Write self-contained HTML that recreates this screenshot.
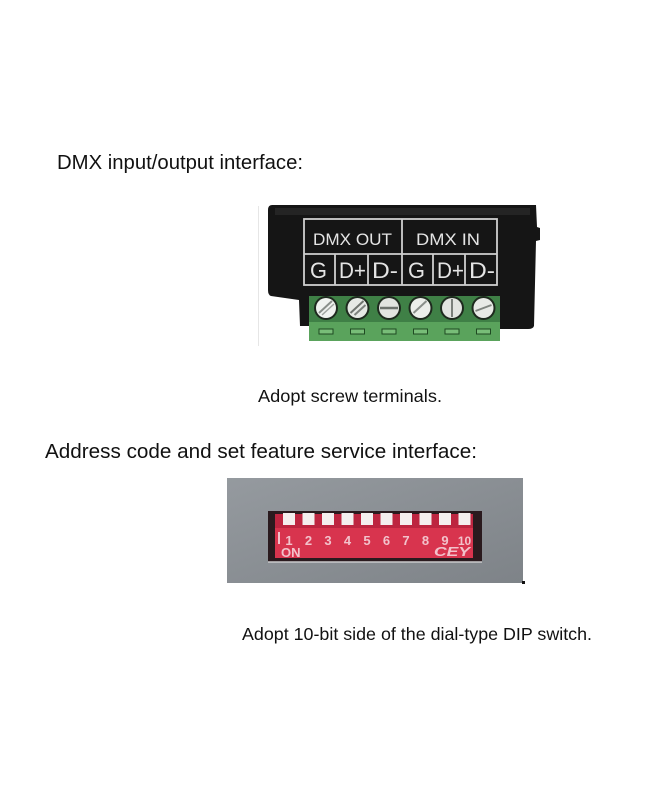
<!DOCTYPE html>
<html><head><meta charset="utf-8"><style>
html,body{margin:0;padding:0;background:#fff;}
svg{display:block;}
</style></head><body>
<svg width="650" height="800" viewBox="0 0 650 800" xmlns="http://www.w3.org/2000/svg" font-family="Liberation Sans, Arial, sans-serif">
<rect width="650" height="800" fill="#fff"/>
<!-- Headings -->
<text x="57" y="169" font-size="20" fill="#111" textLength="246" lengthAdjust="spacingAndGlyphs">DMX input/output interface:</text>
<text x="45" y="458" font-size="20.5" fill="#111" textLength="432" lengthAdjust="spacingAndGlyphs">Address code and set feature service interface:</text>
<text x="258" y="402" font-size="17.5" fill="#111" textLength="184" lengthAdjust="spacingAndGlyphs">Adopt screw terminals.</text>
<text x="242" y="640" font-size="17.5" fill="#111" textLength="350" lengthAdjust="spacingAndGlyphs">Adopt 10-bit side of the dial-type DIP switch.</text>

<!-- DMX photo -->
<line x1="258.5" y1="206" x2="258.5" y2="346" stroke="#e6e6e6" stroke-width="1"/>
<path d="M272 205 L536 205 L537 227 L540 228 L540 240 L536 241 L534 326 Q533 329 528 329 L500 329 L500 300 L310 300 L310 326 L300 326 L299 300 L271 296 Q268 295 268 290 L268 210 Q268 205 272 205 Z" fill="#151515"/>
<path d="M275 208 L530 208 L530 215 L275 215 Z" fill="#242424"/>
<!-- table -->
<g stroke="#cfcfcf" stroke-width="1.8" fill="none">
<rect x="304" y="219" width="193" height="66"/>
<line x1="304" y1="254" x2="497" y2="254"/>
<line x1="402" y1="219" x2="402" y2="285"/>
<line x1="335" y1="254" x2="335" y2="285"/>
<line x1="368" y1="254" x2="368" y2="285"/>
<line x1="433" y1="254" x2="433" y2="285"/>
<line x1="465" y1="254" x2="465" y2="285"/>
</g>
<g fill="#e4e4e4">
<text x="313" y="245" font-size="17" textLength="79" lengthAdjust="spacingAndGlyphs">DMX OUT</text>
<text x="416" y="245" font-size="17" textLength="64" lengthAdjust="spacingAndGlyphs">DMX IN</text>
<text x="310" y="278" font-size="22" textLength="17" lengthAdjust="spacingAndGlyphs">G</text>
<text x="339" y="278" font-size="22" textLength="27" lengthAdjust="spacingAndGlyphs">D+</text>
<text x="372" y="278" font-size="22" textLength="26" lengthAdjust="spacingAndGlyphs">D-</text>
<text x="408" y="278" font-size="22" textLength="17" lengthAdjust="spacingAndGlyphs">G</text>
<text x="437" y="278" font-size="22" textLength="27" lengthAdjust="spacingAndGlyphs">D+</text>
<text x="469" y="278" font-size="22" textLength="26" lengthAdjust="spacingAndGlyphs">D-</text>
</g>
<!-- green terminal -->
<rect x="309" y="296" width="191" height="45" fill="#4f9552"/>
<rect x="309" y="296" width="191" height="26" fill="#3f8046"/>
<rect x="309" y="322" width="191" height="19" fill="#5aa35c"/>
<g>
<g transform="translate(326,308)"><circle r="12" fill="#1e2a1e"/><circle r="10" fill="#f0f2ef"/><line x1="-7" y1="5" x2="6" y2="-7" stroke="#8a8f8a" stroke-width="2"/><line x1="-4" y1="7" x2="8" y2="-4" stroke="#a0a5a0" stroke-width="1.5"/></g>
<g transform="translate(357.5,308)"><circle r="12" fill="#1e2a1e"/><circle r="10" fill="#e6e9e5"/><line x1="-7" y1="5" x2="6" y2="-7" stroke="#6f746f" stroke-width="2"/><line x1="-3" y1="7" x2="8" y2="-3" stroke="#7e837e" stroke-width="2"/></g>
<g transform="translate(389,308)"><circle r="12" fill="#1e2a1e"/><circle r="10" fill="#e2e4e0"/><line x1="-9" y1="0" x2="9" y2="0" stroke="#6e736e" stroke-width="2.5"/></g>
<g transform="translate(420.5,308)"><circle r="12" fill="#1e2a1e"/><circle r="10" fill="#eceeea"/><line x1="-7" y1="5" x2="6" y2="-7" stroke="#8a8f8a" stroke-width="2"/></g>
<g transform="translate(452,308)"><circle r="12" fill="#1e2a1e"/><circle r="10" fill="#e2e4e0"/><line x1="0" y1="-9" x2="0" y2="9" stroke="#7a7f7a" stroke-width="2"/></g>
<g transform="translate(483.5,308)"><circle r="12" fill="#1e2a1e"/><circle r="10" fill="#e8eae6"/><line x1="-8" y1="3" x2="8" y2="-3" stroke="#80857f" stroke-width="2"/></g>
</g>
<g fill="#78bd78" stroke="#1f4a22" stroke-width="1">
<rect x="319" y="329" width="14" height="5"/>
<rect x="350.5" y="329" width="14" height="5"/>
<rect x="382" y="329" width="14" height="5"/>
<rect x="413.5" y="329" width="14" height="5"/>
<rect x="445" y="329" width="14" height="5"/>
<rect x="476.5" y="329" width="14" height="5"/>
</g>

<!-- DIP photo -->
<defs>
<linearGradient id="gg" x1="0" y1="0" x2="1" y2="1">
<stop offset="0" stop-color="#959a9f"/>
<stop offset="1" stop-color="#7e8388"/>
</linearGradient>
</defs>
<rect x="227" y="478" width="296" height="105" fill="url(#gg)"/>
<rect x="522" y="581" width="3" height="3" fill="#111"/>
<rect x="268" y="511" width="214" height="51" fill="#2a1a1e"/>
<line x1="268" y1="562" x2="482" y2="562" stroke="#c9cacc" stroke-width="1.5"/>
<rect x="275" y="514" width="198" height="44" fill="#d8344e"/>
<rect x="275" y="514" width="198" height="14" fill="#bd2540"/>
<g fill="#f4eeee">
<rect x="283" y="513" width="12" height="12"/>
<rect x="302.5" y="513" width="12" height="12"/>
<rect x="322" y="513" width="12" height="12"/>
<rect x="341.5" y="513" width="12" height="12"/>
<rect x="361" y="513" width="12" height="12"/>
<rect x="380.5" y="513" width="12" height="12"/>
<rect x="400" y="513" width="12" height="12"/>
<rect x="419.5" y="513" width="12" height="12"/>
<rect x="439" y="513" width="12" height="12"/>
<rect x="458.5" y="513" width="12" height="12"/>
</g>
<g fill="#f2c2cb" font-size="13" font-weight="bold" text-anchor="middle">
<text x="289" y="545">1</text>
<text x="308.5" y="545">2</text>
<text x="328" y="545">3</text>
<text x="347.5" y="545">4</text>
<text x="367" y="545">5</text>
<text x="386.5" y="545">6</text>
<text x="406" y="545">7</text>
<text x="425.5" y="545">8</text>
<text x="445" y="545">9</text>
<text x="464.5" y="545" font-size="12">10</text>
</g>
<rect x="278" y="532" width="2" height="12" fill="#f2c2cb"/>
<text x="281" y="557" font-size="13" font-weight="bold" fill="#f2c2cb">ON</text>
<text x="434" y="556" font-size="13" font-style="italic" font-weight="bold" fill="#f2c2cb" textLength="36" lengthAdjust="spacingAndGlyphs">CEY</text>
</svg>
</body></html>
